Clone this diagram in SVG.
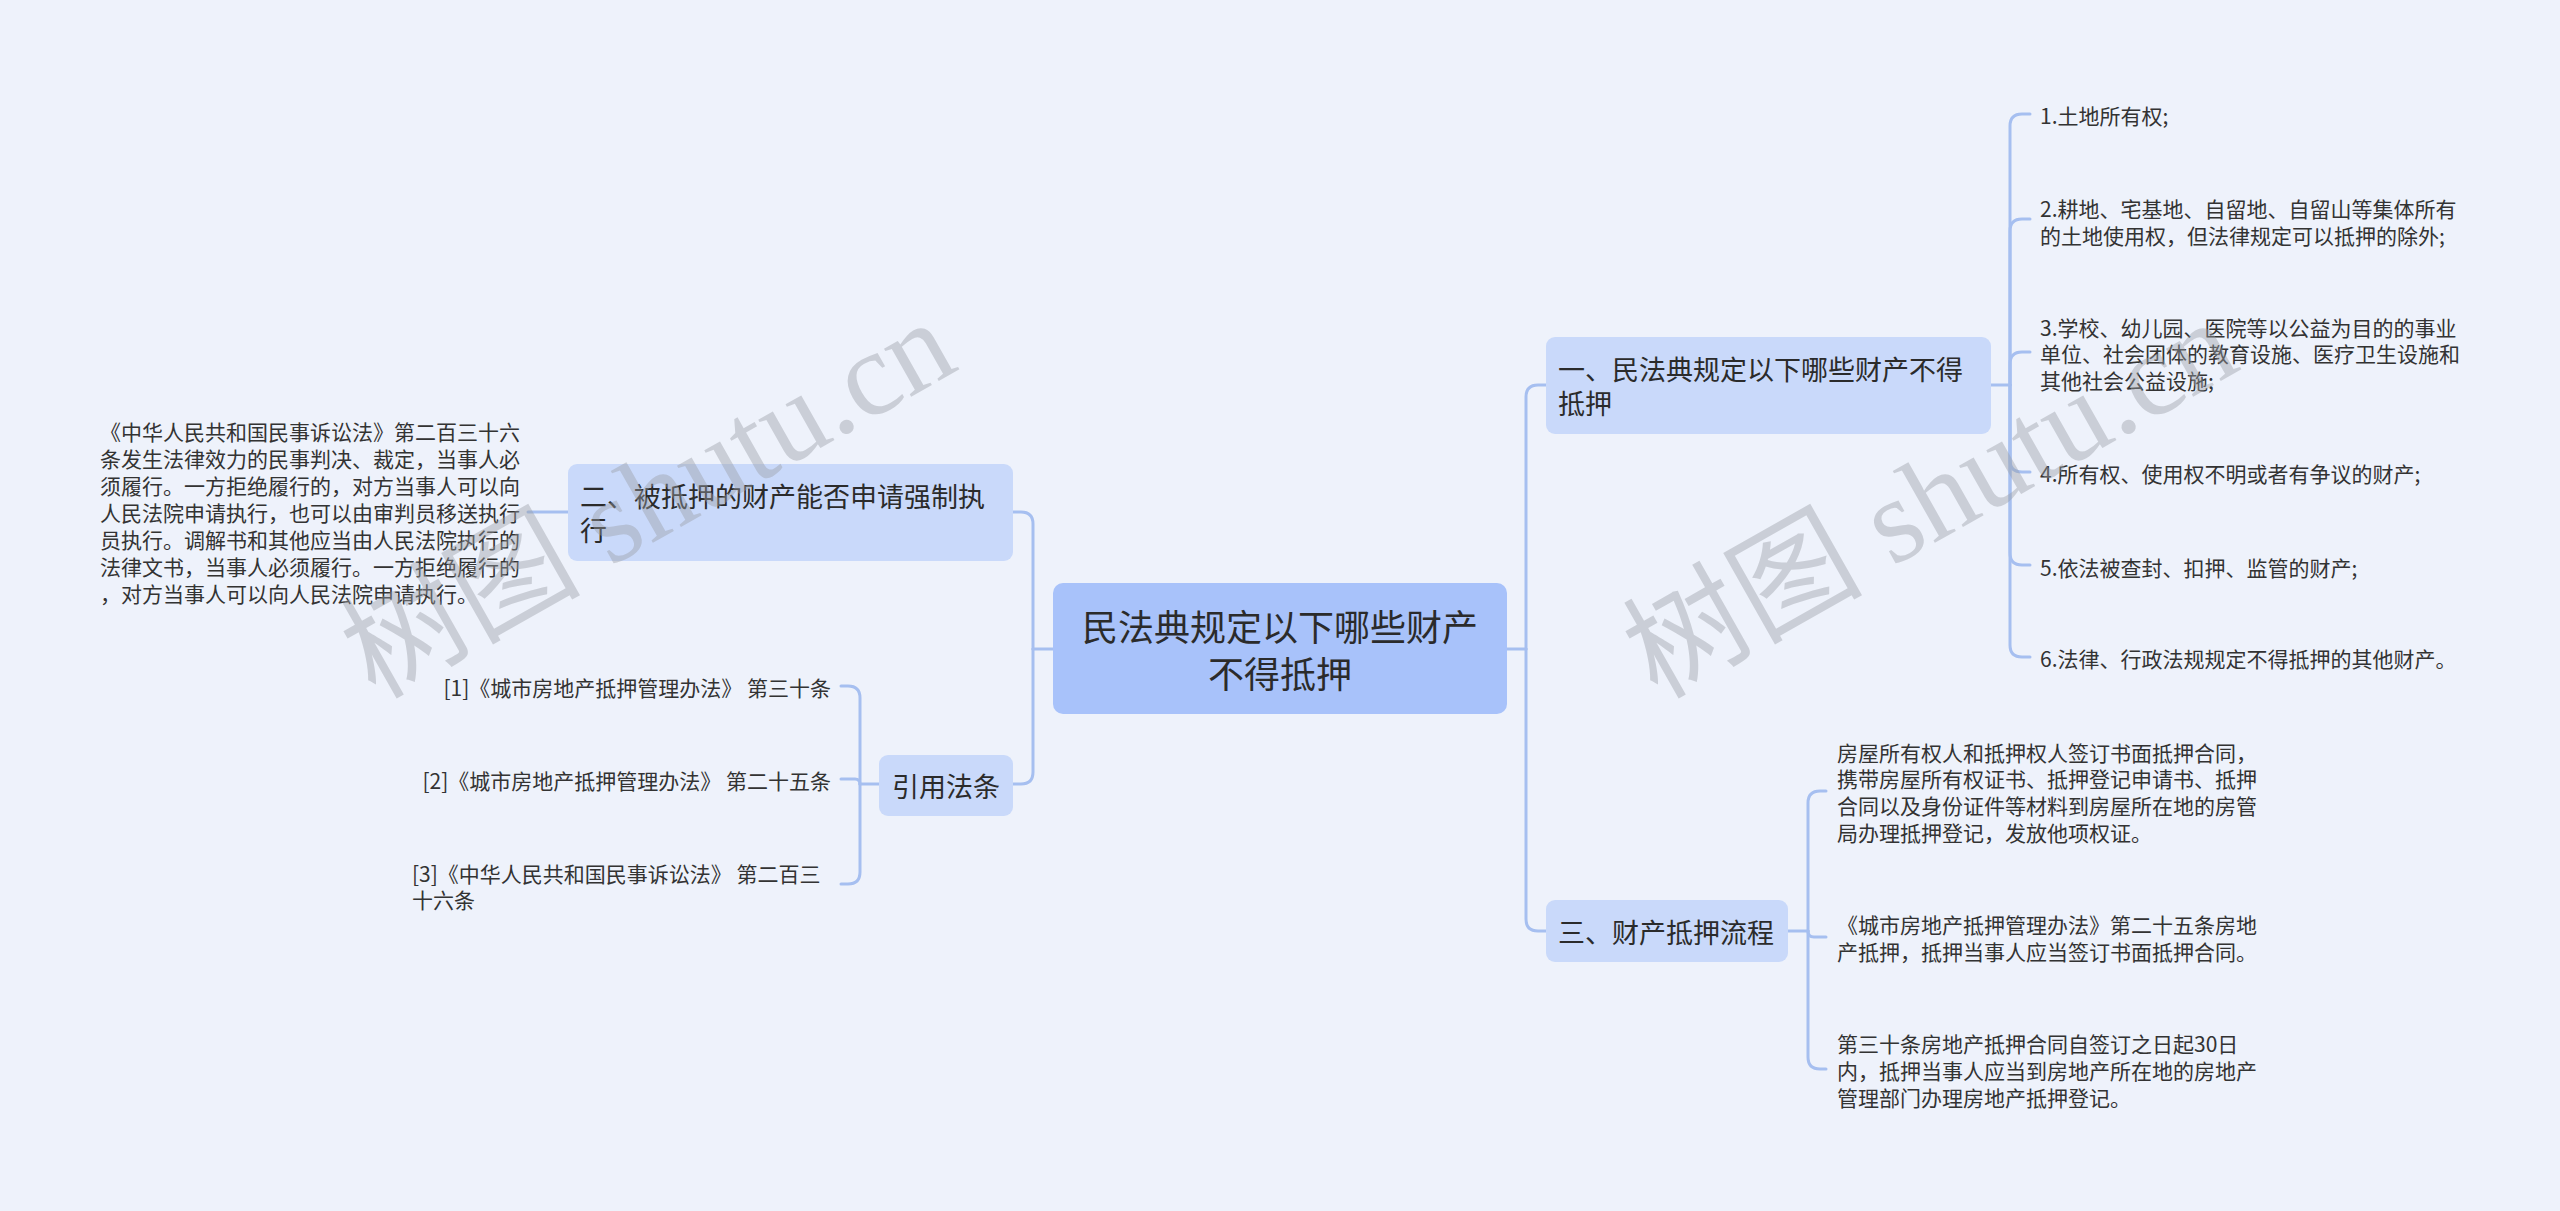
<svg xmlns="http://www.w3.org/2000/svg" width="2560" height="1211" viewBox="0 0 2560 1211">
<style>
.bg{fill:#eef2fb}
.root{fill:#a8c2fa}
.l1{fill:#c9d9fa}
.t{font-family:"Noto Sans CJK SC","Liberation Sans",sans-serif;fill:#2b2b2b;dominant-baseline:central}
.big{font-size:36px}
.mid{font-size:27px}
.sm{font-size:21px;fill:#333}
.c{fill:none;stroke:#a6bff0;stroke-width:3;stroke-linecap:round}
.wm{font-family:"Liberation Serif","Noto Sans CJK SC",serif;font-size:120px;fill:#9a9ea6;opacity:0.42}
</style>
<rect class="bg" x="0" y="0" width="2560" height="1211"/>
<g id="connectors">
<path class="c" d="M1053,649 H1033"/>
<path class="c" d="M1033,649 V524 Q1033,512 1021,512 H1013"/>
<path class="c" d="M1033,649 V772 Q1033,784 1021,784 H1013"/>
<path class="c" d="M568,512 H528"/>
<path class="c" d="M879,784 H860"/>
<path class="c" d="M860,784 V698 Q860,686 848,686 H841"/>
<path class="c" d="M860,784 Q860,779 855,779 H841"/>
<path class="c" d="M860,784 V872 Q860,884 848,884 H841"/>
<path class="c" d="M1507,649 H1526"/>
<path class="c" d="M1526,649 V397 Q1526,385 1538,385 H1546"/>
<path class="c" d="M1526,649 V919 Q1526,931 1538,931 H1546"/>
<path class="c" d="M1991,385 H2010"/>
<path class="c" d="M2010,385 V126 Q2010,114 2022,114 H2030"/>
<path class="c" d="M2010,385 V231 Q2010,219 2022,219 H2030"/>
<path class="c" d="M2010,385 V364 Q2010,352 2022,352 H2030"/>
<path class="c" d="M2010,385 V460 Q2010,472 2022,472 H2030"/>
<path class="c" d="M2010,385 V553 Q2010,565 2022,565 H2030"/>
<path class="c" d="M2010,385 V645 Q2010,657 2022,657 H2030"/>
<path class="c" d="M1788,931 H1808"/>
<path class="c" d="M1808,931 V803 Q1808,791 1820,791 H1826"/>
<path class="c" d="M1808,931 Q1808,937 1814,937 H1826"/>
<path class="c" d="M1808,931 V1057 Q1808,1069 1820,1069 H1826"/>
</g>
<g id="root">
<rect class="root" x="1053" y="583" width="454" height="131" rx="10"/>
<text class="t big" x="1280" y="625" text-anchor="middle">民法典规定以下哪些财产</text>
<text class="t big" x="1280" y="672" text-anchor="middle">不得抵押</text>
</g>
<g id="n2">
<rect class="l1" x="568" y="464" width="445" height="97" rx="9"/>
<text class="t mid" x="580" y="495.5">二、被抵押的财产能否申请强制执</text>
<text class="t mid" x="580" y="529.5">行</text>
</g>
<g id="n2-text">
<text class="t sm" x="100" y="431">《中华人民共和国民事诉讼法》第二百三十六</text>
<text class="t sm" x="100" y="458">条发生法律效力的民事判决、裁定，当事人必</text>
<text class="t sm" x="100" y="485">须履行。一方拒绝履行的，对方当事人可以向</text>
<text class="t sm" x="100" y="512">人民法院申请执行，也可以由审判员移送执行</text>
<text class="t sm" x="100" y="539">员执行。调解书和其他应当由人民法院执行的</text>
<text class="t sm" x="100" y="566">法律文书，当事人必须履行。一方拒绝履行的</text>
<text class="t sm" x="100" y="593">，对方当事人可以向人民法院申请执行。</text>
</g>
<g id="refs">
<rect class="l1" x="879" y="755" width="134" height="61" rx="9"/>
<text class="t mid" x="946" y="785" text-anchor="middle">引用法条</text>
</g>
<g id="ref1"><text class="t sm" x="831" y="687" text-anchor="end">[1]《城市房地产抵押管理办法》 第三十条</text></g>
<g id="ref2"><text class="t sm" x="831" y="780" text-anchor="end">[2]《城市房地产抵押管理办法》 第二十五条</text></g>
<g id="ref3">
<text class="t sm" x="412" y="873">[3]《中华人民共和国民事诉讼法》 第二百三</text>
<text class="t sm" x="412" y="899">十六条</text>
</g>
<g id="n1">
<rect class="l1" x="1546" y="337" width="445" height="97" rx="9"/>
<text class="t mid" x="1558" y="368.5">一、民法典规定以下哪些财产不得</text>
<text class="t mid" x="1558" y="402.5">抵押</text>
</g>
<g id="n1-1"><text class="t sm" x="2040" y="115">1.土地所有权;</text></g>
<g id="n1-2">
<text class="t sm" x="2040" y="208">2.耕地、宅基地、自留地、自留山等集体所有</text>
<text class="t sm" x="2040" y="235">的土地使用权，但法律规定可以抵押的除外;</text>
</g>
<g id="n1-3">
<text class="t sm" x="2040" y="327">3.学校、幼儿园、医院等以公益为目的的事业</text>
<text class="t sm" x="2040" y="353">单位、社会团体的教育设施、医疗卫生设施和</text>
<text class="t sm" x="2040" y="380">其他社会公益设施;</text>
</g>
<g id="n1-4"><text class="t sm" x="2040" y="473">4.所有权、使用权不明或者有争议的财产;</text></g>
<g id="n1-5"><text class="t sm" x="2040" y="567">5.依法被查封、扣押、监管的财产;</text></g>
<g id="n1-6"><text class="t sm" x="2040" y="658">6.法律、行政法规规定不得抵押的其他财产。</text></g>
<g id="n3">
<rect class="l1" x="1546" y="900" width="242" height="62" rx="9"/>
<text class="t mid" x="1558" y="931">三、财产抵押流程</text>
</g>
<g id="n3-1">
<text class="t sm" x="1837" y="752">房屋所有权人和抵押权人签订书面抵押合同，</text>
<text class="t sm" x="1837" y="778">携带房屋所有权证书、抵押登记申请书、抵押</text>
<text class="t sm" x="1837" y="805">合同以及身份证件等材料到房屋所在地的房管</text>
<text class="t sm" x="1837" y="832">局办理抵押登记，发放他项权证。</text>
</g>
<g id="n3-2">
<text class="t sm" x="1837" y="924">《城市房地产抵押管理办法》第二十五条房地</text>
<text class="t sm" x="1837" y="951">产抵押，抵押当事人应当签订书面抵押合同。</text>
</g>
<g id="n3-3">
<text class="t sm" x="1837" y="1043">第三十条房地产抵押合同自签订之日起30日</text>
<text class="t sm" x="1837" y="1070">内，抵押当事人应当到房地产所在地的房地产</text>
<text class="t sm" x="1837" y="1097">管理部门办理房地产抵押登记。</text>
</g>
<g id="watermarks">
<text class="wm" x="375" y="700" transform="rotate(-29.5 375 700)">树图 shutu.cn</text>
<text class="wm" x="1657" y="700" transform="rotate(-29.5 1657 700)">树图 shutu.cn</text>
</g>
</svg>
